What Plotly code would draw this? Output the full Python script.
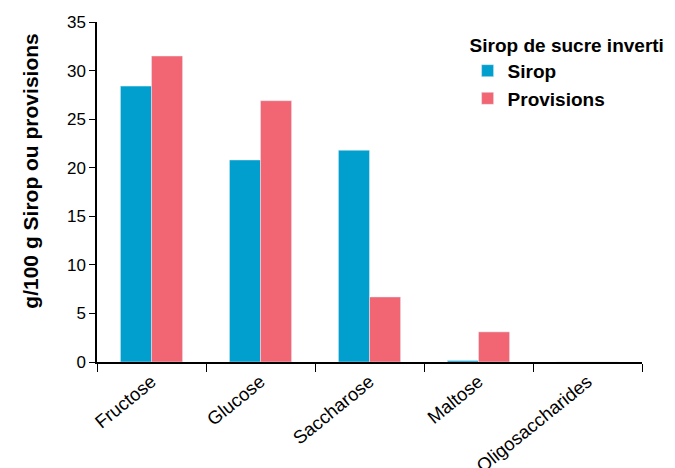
import plotly.graph_objects as go

sucres = ["Fructose", "Glucose", "Saccharose", "Maltose", "Oligosaccharides"]
sirop = [28.4, 20.8, 21.8, 0.15, 0]
provisions = [31.5, 26.9, 6.7, 3.1, 0]

fig = go.Figure()
fig.add_trace(go.Bar(x=sucres, y=sirop, name="<b>Sirop</b>", marker_color="#009FCE"))
fig.add_trace(go.Bar(x=sucres, y=provisions, name="<b>Provisions</b>", marker_color="#F26674"))

fig.update_layout(
    width=675, height=468,
    margin=dict(l=89, r=41, t=14, b=114),
    plot_bgcolor="white", paper_bgcolor="white",
    font=dict(family="Liberation Sans, Arial", size=17, color="black"),
    barmode="group", bargap=0.43, bargroupgap=0,
    legend=dict(
        title=dict(text="<b>Sirop de sucre inverti</b>", font=dict(size=19)),
        x=0.68, y=0.985, xanchor="left", yanchor="top",
        font=dict(size=19), bgcolor="rgba(0,0,0,0)", tracegroupgap=4,
    ),
)
# y title placed by hand, sits a bit above the middle of the axis in the original
fig.add_annotation(text="<b>g/100 g Sirop ou provisions</b>", textangle=-90,
                   xref="paper", yref="paper", x=-0.121, y=0.56,
                   xanchor="center", yanchor="middle", showarrow=False,
                   font=dict(size=21))
fig.update_xaxes(showline=True, linecolor="black", linewidth=1.5, ticks="outside",
                 tickson="boundaries", ticklen=8, tickcolor="black", tickangle=-39,
                 tickfont=dict(size=18.5), automargin=False)
fig.update_yaxes(range=[0, 35], dtick=5, showline=True, linecolor="black", linewidth=1.5,
                 ticks="outside", ticklen=6, tickcolor="black", showgrid=False, zeroline=False,
                 tickfont=dict(size=17), automargin=False)

fig.write_html("out.html")
